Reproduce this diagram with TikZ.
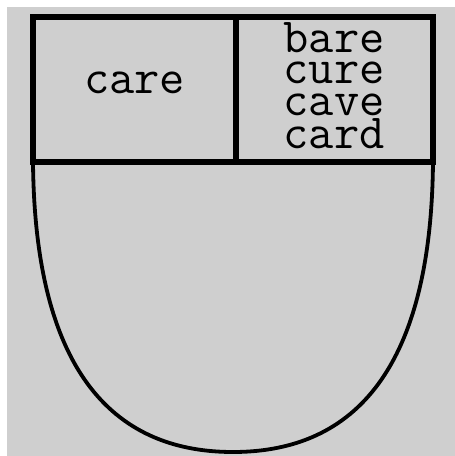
\documentclass[tikz,border=0pt]{standalone}
\definecolor{bggray}{HTML}{CFCFCF}
\tikzset{
  thick box/.style={line width=5.5pt, line cap=round, line join=miter},
  cup/.style={line width=3.8pt},
  word/.style={font=\ttfamily\fontsize{49}{32}\selectfont, inner sep=0pt, anchor=base, text height=24pt, text depth=0pt}
}
\begin{document}
\begin{tikzpicture}[x=1pt,y=-1pt]
  \useasboundingbox (0,0) rectangle (455,456);
  \fill[white] (0,0) rectangle (455,456);
  \fill[bggray] (7,7) rectangle (455,456);
  \coordinate (tl) at (33,17);
  \coordinate (tr) at (433,17);
  \coordinate (ml) at (33,162);
  \coordinate (mr) at (433,162);
  \coordinate (dt) at (236,17);
  \coordinate (db) at (236,162);
  \coordinate (bot) at (233,452);
  \draw[cup] (ml) .. controls (35,390) and (128,452) .. (bot)
                  .. controls (338,452) and (431,390) .. (mr);
  \draw[thick box] (tl) rectangle (mr);
  \draw[thick box] (dt) -- (db);
  \draw[thick box] (ml) -- (mr);
  \node[word] (care) at (134.5,93) {care};
  \node[word] (bare) at (334,52) {bare};
  \node[word] (cure) at (334,83) {cure};
  \node[word] (cave) at (334,115) {cave};
  \node[word] (card) at (334,148) {card};
\end{tikzpicture}
\end{document}
